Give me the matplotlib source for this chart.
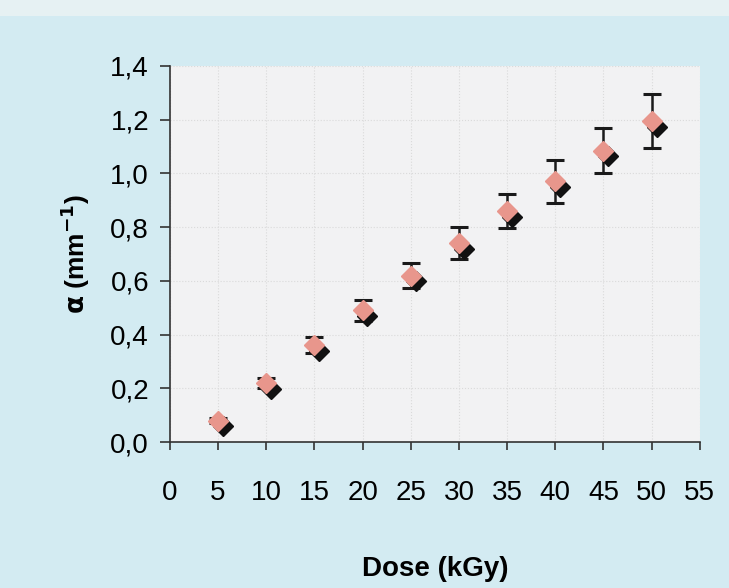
import matplotlib
matplotlib.use("Agg")
import matplotlib.pyplot as plt
import matplotlib.transforms as mtransforms
from matplotlib.patches import Rectangle

dose = [5, 10, 15, 20, 25, 30, 35, 40, 45, 50]
alpha = [0.08, 0.22, 0.36, 0.49, 0.62, 0.74, 0.86, 0.97, 1.085, 1.195]
err = [0.01, 0.02, 0.03, 0.04, 0.045, 0.06, 0.065, 0.08, 0.085, 0.10]

xticks = [0, 5, 10, 15, 20, 25, 30, 35, 40, 45, 50, 55]
yticks = [0.0, 0.2, 0.4, 0.6, 0.8, 1.0, 1.2, 1.4]
ytick_labels = ["0,0", "0,2", "0,4", "0,6", "0,8", "1,0", "1,2", "1,4"]

plt.rcParams['font.family'] = ['Liberation Sans', 'DejaVu Sans']

fig = plt.figure(figsize=(7.29, 5.88), dpi=100)
fig.patch.set_facecolor('#d3ebf2')
fig.patches.append(Rectangle((0, 0.972), 1, 0.028, transform=fig.transFigure,
                             facecolor='#e6f1f3', edgecolor='none', zorder=0))
ax = fig.add_axes([0.233, 0.248, 0.727, 0.640])
ax.set_facecolor('#f2f2f3')

ax.errorbar(dose, alpha, yerr=err, fmt='none', ecolor='#1a1a1a',
            elinewidth=1.8, capsize=6.5, capthick=2.2, zorder=3)
shadow = ax.transData + mtransforms.ScaledTranslation(3.5/72, -4/72, fig.dpi_scale_trans)
ax.plot(dose, alpha, linestyle='none', marker='D', markersize=10,
        color='#111111', transform=shadow, zorder=4)
ax.plot(dose, alpha, linestyle='none', marker='D', markersize=10,
        color='#e8968c', markeredgecolor='#e8968c', zorder=5)

ax.set_xlim(0, 55)
ax.set_ylim(0, 1.4)
ax.set_xticks(xticks)
ax.set_xticklabels([str(v) for v in xticks])
ax.set_yticks(yticks)
ax.set_yticklabels(ytick_labels)

ax.grid(True, color='#dadada', linestyle=':', linewidth=0.8)
ax.set_axisbelow(True)

for s in ['top', 'right']:
    ax.spines[s].set_visible(False)
for s in ['left', 'bottom']:
    ax.spines[s].set_color('#333333')
    ax.spines[s].set_linewidth(1.2)

ax.tick_params(axis='y', direction='out', length=7, width=1.2, color='#333333',
               labelsize=20, pad=8)
ax.tick_params(axis='x', direction='out', length=6, width=1.2, color='#333333',
               labelsize=20, pad=21)

ax.set_xlabel('Dose (kGy)', fontsize=20, fontweight='bold', labelpad=36)
ax.set_ylabel(r'$\mathbf{\alpha}$ (mm$^{\mathbf{-1}}$)', fontsize=19, fontweight='bold', labelpad=13)

fig.savefig('out.png', dpi=100, facecolor=fig.get_facecolor())
